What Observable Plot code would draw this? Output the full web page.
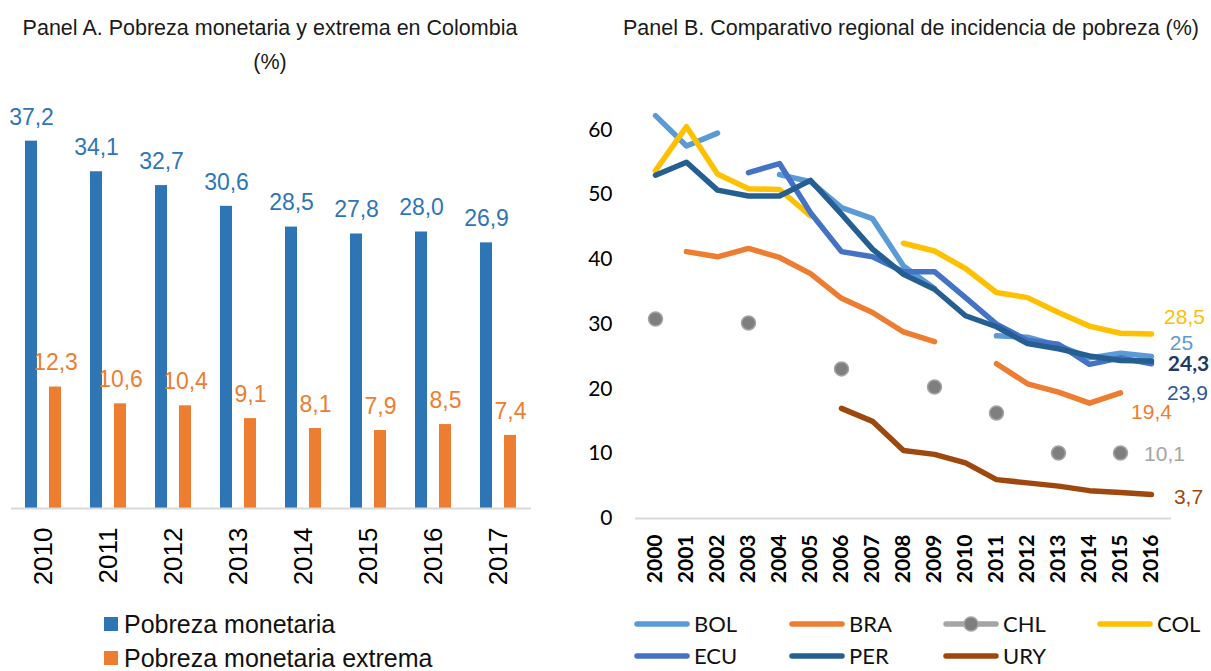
<!DOCTYPE html>
<html><head><meta charset="utf-8">
<script src="https://cdn.jsdelivr.net/npm/d3@7"></script>
<script src="https://cdn.jsdelivr.net/npm/@observablehq/plot@0.6"></script>
<style>
body{margin:0;background:#fff;}
#root{position:relative;width:1211px;height:671px;overflow:hidden;font-family:"Liberation Sans",Arial,sans-serif;}
.abs{position:absolute;}
.title{font-size:21.5px;color:#1a1a1a;text-align:center;line-height:34px;white-space:nowrap;}
.legA{font-size:25px;line-height:28px;color:#111;white-space:nowrap;display:flex;align-items:center;}
.legA .sq{width:14px;height:14px;margin-right:6px;}
.legB{font-family:Lato,sans-serif;font-size:22px;line-height:20px;height:20px;color:#111;white-space:nowrap;display:flex;align-items:center;}
</style></head><body><div id="root"></div>
<script>
// ---------- Panel A data ----------
const yearsA = ["2010","2011","2012","2013","2014","2015","2016","2017"];
const pobreza = [37.2, 34.1, 32.7, 30.6, 28.5, 27.8, 28.0, 26.9];
const extrema = [12.3, 10.6, 10.4, 9.1, 8.1, 7.9, 8.5, 7.4];
const seriesA = ["Pobreza monetaria", "Pobreza monetaria extrema"];
const colorsA = ["#2E75B6", "#ED7D31"];

// ---------- Panel B data ----------
const yearsB = [2000,2001,2002,2003,2004,2005,2006,2007,2008,2009,2010,2011,2012,2013,2014,2015,2016];
const BOL = [62.2, 57.5, 59.5, null, 53.1, 52.0, 48.0, 46.3, 39.0, 35.5, null, 28.2, 28.0, 26.7, 24.8, 25.5, 25.0];
const BRA = [null, 41.2, 40.4, 41.7, 40.3, 37.8, 34.0, 31.8, 28.8, 27.3, null, 23.9, 20.8, 19.5, 17.8, 19.4, null];
const CHL = [30.8, null, null, 30.2, null, null, 23.1, null, null, 20.3, null, 16.3, null, 10.1, null, 10.1, null];
const COL = [53.7, 60.5, 53.2, 50.9, 50.8, 46.7, null, null, 42.5, 41.3, 38.6, 34.9, 34.1, 31.8, 29.7, 28.6, 28.5];
const ECU = [null, null, null, 53.4, 54.8, 47.2, 41.2, 40.4, 38.1, 38.1, 34.1, 30.0, 27.5, 26.9, 23.8, 24.8, 23.9];
const PER = [53.0, 55.0, 50.7, 49.8, 49.8, 52.2, 47.0, 41.6, 37.7, 35.4, 31.3, 29.6, 27.0, 26.2, 25.1, 24.4, 24.3];
const URY = [null, null, null, null, null, null, 17.0, 15.0, 10.5, 9.9, 8.6, 6.0, 5.5, 5.0, 4.3, 4.0, 3.7];
const countries = ["BOL","BRA","CHL","COL","ECU","PER","URY"];
const endLabels = ["25","19,4","10,1","28,5","23,9","24,3","3,7"];
const yTicksB = [0,10,20,30,40,50,60];

// ---------- styles (kept apart from data) ----------
const lineColors = {BOL:"#5B9BD5", BRA:"#ED7D31", CHL:"#A5A5A5", COL:"#FFC000", ECU:"#4472C4", PER:"#255E91", URY:"#9E480E"};
const labelColors = {BOL:"#5B9BD5", BRA:"#ED7D31", CHL:"#A5A5A5", COL:"#FFC000", ECU:"#2F5597", PER:"#1F3864", URY:"#9E480E"};
const labelNudge = {BOL:[30,-13], BRA:[31,19], CHL:[44,1], COL:[33,-17], ECU:[36,30], PER:[37,3], URY:[37,3]};

const root = document.getElementById("root");
const comma = v => d3.format(".1f")(v).replace(".", ",");

function place(el, left, top) { el.style.position = "absolute"; el.style.left = left + "px"; el.style.top = top + "px"; root.appendChild(el); return el; }
function div(cls, html) { const d = document.createElement("div"); d.className = cls; d.innerHTML = html; return d; }

// ---------- Panel A ----------
const rowsA = yearsA.flatMap((y, i) => [
  {year: y, series: seriesA[0], value: pobreza[i]},
  {year: y, series: seriesA[1], value: extrema[i]}
]);
const plotA = Plot.plot({
  width: 560, height: 513,
  marginLeft: 10, marginRight: 28, marginTop: 23, marginBottom: 95,
  style: {fontFamily: "Liberation Sans, Arial, sans-serif", background: "transparent"},
  fx: {domain: yearsA, padding: 0, label: null},
  x: {domain: seriesA, paddingInner: 0.48, paddingOuter: 0.55, axis: null},
  y: {domain: [0, 40], axis: null},
  color: {domain: seriesA, range: colorsA},
  marks: [
    Plot.barY(rowsA, {fx: "year", x: "series", y: "value", fill: "series"}),
    Plot.ruleY([0], {stroke: "#D9D9D9", strokeWidth: 2}),
    Plot.text(rowsA, {fx: "year", x: "series", y: "value", text: d => comma(d.value), fill: "series", dy: -24, fontSize: 23}),
    Plot.axisFx({anchor: "bottom", tickSize: 0, tickPadding: 19, tickRotate: -90, fontSize: 26, label: null, fill: "#000"})
  ]
});
place(plotA, 0, 90);

place(div("abs title", "Panel A. Pobreza monetaria y extrema en Colombia<br>(%)"), 0, 11).style.width = "540px";

seriesA.forEach((s, i) => {
  const l = div("legA", `<span class="sq" style="background:${colorsA[i]}"></span>${s}`);
  place(l, 104, 610 + i * 34);
});

// ---------- Panel B ----------
const seriesB = [BOL, BRA, CHL, COL, ECU, PER, URY];
const rowsB = countries.flatMap((c, i) => yearsB.map((y, j) => ({country: c, year: y, value: seriesB[i][j]})));
const endRows = countries.map((c, i) => {
  const arr = seriesB[i];
  let j = arr.length - 1;
  while (arr[j] == null) j--;
  return {country: c, year: yearsB[j], value: arr[j], label: endLabels[i]};
});

const plotB = Plot.plot({
  width: 651, height: 528,
  marginLeft: 75, marginRight: 40, marginTop: 17, marginBottom: 90,
  style: {fontFamily: "Lato, sans-serif", background: "transparent"},
  x: {type: "point", domain: yearsB, padding: 0.5},
  y: {domain: [0, 65]},
  marks: [
    Plot.ruleY([0], {stroke: "#D9D9D9", strokeWidth: 2}),
    Plot.line(rowsB.filter(d => d.country !== "CHL"), {
      x: "year", y: "value", z: "country",
      stroke: d => lineColors[d.country],
      strokeWidth: 5.5, strokeLinecap: "round", strokeLinejoin: "round"
    }),
    Plot.dot(rowsB.filter(d => d.country === "CHL" && d.value != null), {
      x: "year", y: "value", r: 7, fill: "#7F7F7F", stroke: "#A5A5A5", strokeWidth: 1.5
    }),
    ...endRows.map(d => Plot.text([d], {
      x: "year", y: "value", text: "label",
      dx: labelNudge[d.country][0], dy: labelNudge[d.country][1],
      fill: labelColors[d.country], fontSize: 21,
      fontFamily: d.country === "PER" ? "Lato, sans-serif" : "Liberation Sans, Arial, sans-serif",
      fontWeight: d.country === "PER" ? "bold" : "normal"
    })),
    Plot.axisY({ticks: yTicksB, tickSize: 0, tickPadding: 23, fontSize: 21, label: null, fill: "#000"}),
    Plot.axisX({tickSize: 0, tickPadding: 16, tickRotate: -90, fontSize: 21, fontWeight: "bold", label: null, tickFormat: d => String(d), fill: "#000"})
  ]
});
place(plotB, 560, 80);

place(div("abs title", "Panel B. Comparativo regional de incidencia de pobreza (%)"), 611, 11).style.width = "600px";

const legPos = [[637, 614], [792, 614], [946, 614], [1100, 614], [637, 646], [792, 646], [946, 646]];
countries.forEach((c, i) => {
  const marker = c === "CHL" ? `<circle cx="28" cy="10" r="7" fill="#7F7F7F" stroke="#A5A5A5" stroke-width="1.5"/>` : "";
  const sw = `<svg width="56" height="20" style="margin-right:4px"><line x1="3" x2="53" y1="10" y2="10" stroke="${lineColors[c]}" stroke-width="5.5" stroke-linecap="round"/>${marker}</svg>`;
  const l = div("legB", sw + c);
  place(l, legPos[i][0] - 3, legPos[i][1]);
});
</script></body></html>
